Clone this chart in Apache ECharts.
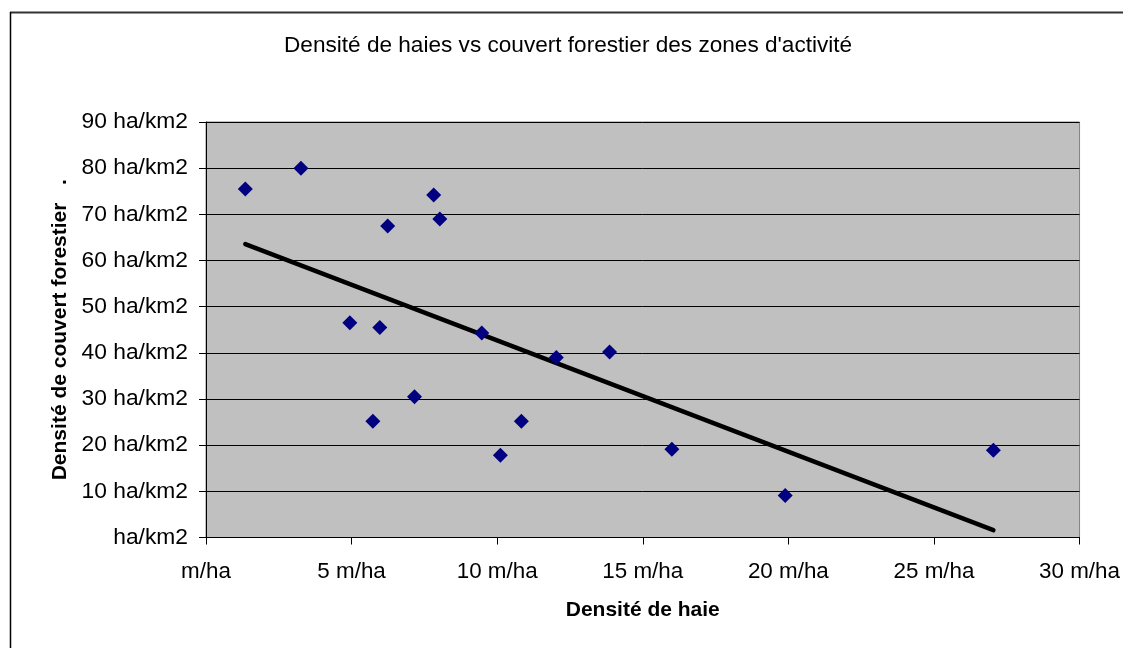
<!DOCTYPE html>
<html>
<head>
<meta charset="utf-8">
<script src="https://cdn.jsdelivr.net/npm/echarts@6/dist/echarts.min.js"></script>
<style>
  html, body { margin: 0; padding: 0; background: #ffffff; }
  #chart { width: 1123px; height: 648px; }
</style>
</head>
<body>
<div id="chart"></div>
<script>
// Hedge density (m/ha) and forest cover density (ha/km2) per activity zone
var hedgeDensity = [1.35, 3.26, 6.24, 7.82, 8.03, 4.94, 5.97, 9.47, 12.03, 13.86, 7.16, 5.73, 10.83, 10.11, 16.0, 19.89, 27.04];
var forestCover  = [75.5, 80.0, 67.5, 74.2, 69.0, 46.5, 45.5, 44.3, 39.0, 40.2, 30.5, 25.2, 25.2, 17.8, 19.1, 9.1, 18.9];

// Linear trend line end points
var trendX = [1.35, 27.04];
var trendY = [63.55, 1.6];

// Axis ticks
var xTicks = [0, 5, 10, 15, 20, 25, 30];
var yTicks = [0, 10, 20, 30, 40, 50, 60, 70, 80, 90];

var FONT = 'Arial, "Liberation Sans", sans-serif';

var points = hedgeDensity.map(function (x, i) { return [x, forestCover[i]]; });
var trend = trendX.map(function (x, i) { return [x, trendY[i]]; });

var chart = echarts.init(document.getElementById('chart'), null, { renderer: 'canvas' });

chart.setOption({
  backgroundColor: '#ffffff',
  animation: false,
  title: {
    text: "Densité de haies vs couvert forestier des zones d'activité",
    left: 284,
    top: 34,
    padding: 0,
    textStyle: { fontFamily: FONT, fontSize: 22.6, fontWeight: 'normal', color: '#000000' }
  },
  graphic: [
    { type: 'line', shape: { x1: 10, y1: 12.5, x2: 1123, y2: 12.5 }, style: { stroke: '#333333', lineWidth: 2 } },
    { type: 'line', shape: { x1: 10.5, y1: 12, x2: 10.5, y2: 648 }, style: { stroke: '#000000', lineWidth: 1.5 } }
  ],
  grid: {
    left: 206,
    right: 42,
    top: 122,
    bottom: 110.5,
    show: true,
    backgroundColor: '#c0c0c0',
    borderColor: '#808080',
    borderWidth: 1
  },
  xAxis: {
    type: 'value',
    min: xTicks[0],
    max: xTicks[xTicks.length - 1],
    interval: xTicks[1] - xTicks[0],
    name: 'Densité de haie',
    nameLocation: 'middle',
    nameGap: 62,
    nameTextStyle: { fontFamily: FONT, fontSize: 21, fontWeight: 'bold', color: '#000000' },
    axisLine: { show: true, lineStyle: { color: '#000000', width: 1 } },
    axisTick: { show: true, length: 7, lineStyle: { color: '#000000' } },
    axisLabel: {
      margin: 23,
      fontFamily: FONT, fontSize: 22.4, color: '#000000',
      formatter: function (v) { return v === 0 ? 'm/ha' : v + ' m/ha'; }
    },
    splitLine: { show: false }
  },
  yAxis: {
    type: 'value',
    min: yTicks[0],
    max: yTicks[yTicks.length - 1],
    interval: yTicks[1] - yTicks[0],
    name: 'Densité de couvert forestier   .',
    nameLocation: 'middle',
    nameGap: 135,
    nameTextStyle: { fontFamily: FONT, fontSize: 21, fontWeight: 'bold', color: '#000000' },
    axisLine: { show: true, lineStyle: { color: '#000000', width: 1 } },
    axisTick: { show: true, length: 7, lineStyle: { color: '#000000' } },
    axisLabel: {
      margin: 18,
      fontFamily: FONT, fontSize: 22.8, color: '#000000',
      formatter: function (v) { return v === 0 ? 'ha/km2' : v + ' ha/km2'; }
    },
    splitLine: { show: true, lineStyle: { color: '#000000', width: 1 } }
  },
  series: [
    {
      type: 'line',
      data: trend,
      symbol: 'none',
      lineStyle: { color: '#000000', width: 4.5, cap: 'round' },
      z: 2
    },
    {
      type: 'scatter',
      data: points,
      symbol: 'diamond',
      symbolSize: 15,
      itemStyle: { color: '#000080', opacity: 1 },
      z: 3
    }
  ]
});
</script>
</body>
</html>
